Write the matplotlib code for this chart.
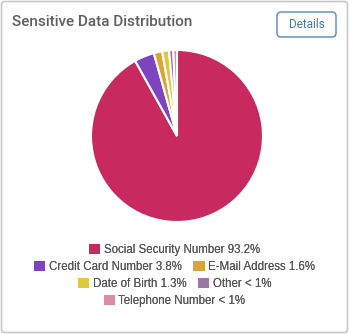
import matplotlib
matplotlib.use("Agg")
import matplotlib.pyplot as plt
from matplotlib.patches import FancyBboxPatch

plt.rcParams['font.family'] = ['Roboto', 'DejaVu Sans']

labels = ["Social Security Number 93.2%", "Credit Card Number 3.8%", "E-Mail Address 1.6%",
          "Date of Birth 1.3%", "Other < 1%", "Telephone Number < 1%"]
values = [93.2, 3.8, 1.6, 1.3, 0.8, 0.7]
colors = ["#c8295e", "#7e44c0", "#d9a53a", "#e0c741", "#9e76a4", "#d98ea0"]
legend_rows = [[0], [1, 2], [3, 4], [5]]

W, H = 349, 334
fig = plt.figure(figsize=(W / 100, H / 100), dpi=100)

# card border
fig.patches.append(FancyBboxPatch((1.5 / W, 1.5 / H), (W - 3) / W, (H - 3) / H,
                                  boxstyle="round,pad=0,rounding_size=0.01",
                                  transform=fig.transFigure, fc="none", ec="#c8c8c8", lw=1.2))

fig.text(12 / W, 1 - 22 / H, "Sensitive Data Distribution", fontsize=11, color="#5f5f5f",
         fontweight="medium", va="center", ha="left")

# details button
fig.patches.append(FancyBboxPatch((277 / W, 1 - 37 / H), 59 / W, 25 / H,
                                  boxstyle="round,pad=0,rounding_size=0.012",
                                  transform=fig.transFigure, fc="none", ec="#5b86c5", lw=1.0))
fig.text(306.5 / W, 1 - 24.5 / H, "Details", fontsize=8.5, color="#4a76b8", va="center", ha="center")

r = 86
cx, cy = 177, 136
ax = fig.add_axes([(cx - r) / W, 1 - (cy + r) / H, 2 * r / W, 2 * r / H])
wedges, _ = ax.pie(values, colors=colors, startangle=90, counterclock=False,
                   wedgeprops=dict(edgecolor="white", linewidth=1.5))
ax.set_xlim(-1, 1)
ax.set_ylim(-1, 1)
ax.set_aspect("equal")

row_y = [250, 267, 284, 301]
for row, y in zip(legend_rows, row_y):
    leg = fig.legend([wedges[i] for i in row], [labels[i] for i in row], ncol=len(row),
                     loc="center", bbox_to_anchor=(0.5, 1 - y / H), frameon=False,
                     prop=dict(family=["Liberation Sans", "DejaVu Sans"], size=8.3),
                     handlelength=1.0, handleheight=1.0, handletextpad=0.3,
                     columnspacing=1.0, borderpad=0, labelcolor="#555555")
    for h in leg.legend_handles:
        h.set_edgecolor("none")
    fig.add_artist(leg)

fig.savefig("out.png", dpi=100)
